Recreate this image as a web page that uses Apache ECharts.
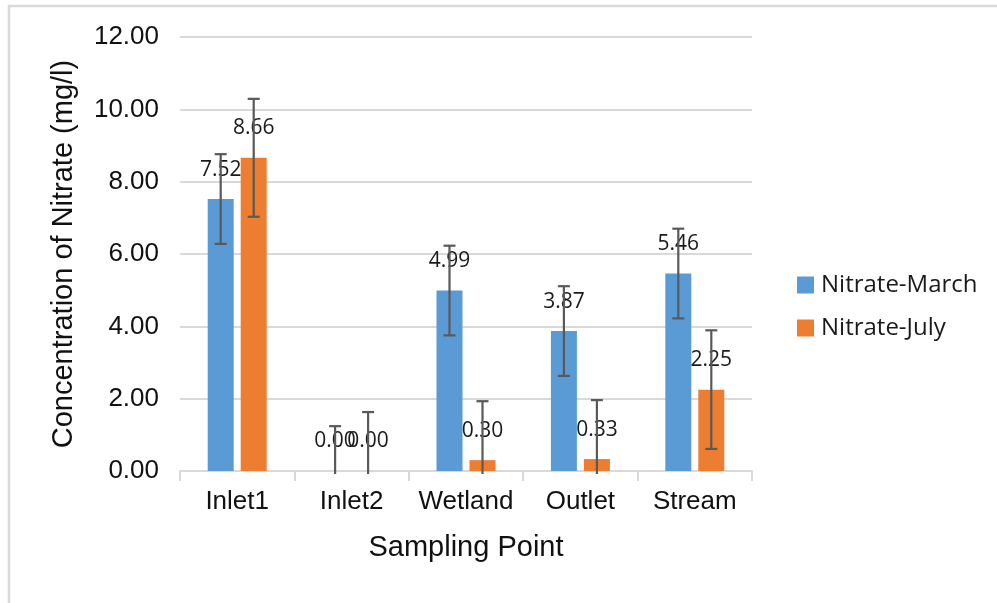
<!DOCTYPE html>
<html>
<head>
<meta charset="utf-8">
<script src="https://cdn.jsdelivr.net/npm/echarts@6/dist/echarts.min.js"></script>
<style>
html,body{margin:0;padding:0;background:#fff;}
#chart{width:997px;height:603px;}
</style>
</head>
<body>
<div id="chart"></div>
<script>
var categories = ['Inlet1', 'Inlet2', 'Wetland', 'Outlet', 'Stream'];
var marchValues = [7.52, 0.00, 4.99, 3.87, 5.46];
var julyValues = [8.66, 0.00, 0.30, 0.33, 2.25];
var marchErrors = [1.24, 1.24, 1.24, 1.24, 1.24];
var julyErrors = [1.63, 1.63, 1.63, 1.63, 1.64];
var yTicks = [0, 2, 4, 6, 8, 10, 12];

var BAR_W = 26, BAR_GAP = 7;
var chart = echarts.init(document.getElementById('chart'));

function errorSeries(values, errors, offset) {
  var data = values.map(function (v, i) { return [i, v, errors[i]]; });
  return {
    type: 'custom',
    z: 5,
    silent: true,
    clip: false,
    data: data,
    encode: { x: 0, y: 1 },
    renderItem: function (params, api) {
      var idx = api.value(0), v = api.value(1), e = api.value(2);
      var hi = v + e, lo = v - e;
      var clipped = lo < 0;
      if (clipped) lo = 0;
      var pTop = api.coord([idx, hi]);
      var pBot = api.coord([idx, lo]);
      var x = pTop[0] + offset;
      var yb = clipped ? pBot[1] + 3 : pBot[1];
      var cap = 6;
      var style = { stroke: '#595959', lineWidth: 2.2 };
      var children = [
        { type: 'line', shape: { x1: x, y1: pTop[1], x2: x, y2: yb }, style: style },
        { type: 'line', shape: { x1: x - cap, y1: pTop[1], x2: x + cap, y2: pTop[1] }, style: style }
      ];
      if (!clipped) {
        children.push({ type: 'line', shape: { x1: x - cap, y1: pBot[1], x2: x + cap, y2: pBot[1] }, style: style });
      }
      return { type: 'group', children: children };
    }
  };
}

var labelCfg = {
  show: true,
  position: 'top',
  distance: 19,
  fontFamily: 'Open Sans',
  fontSize: 21,
  color: '#1a1a1a',
  formatter: function (p) { return p.value.toFixed(2); }
};

var option = {
  animation: false,
  backgroundColor: '#ffffff',
  graphic: [{
    type: 'rect',
    shape: { x: 9, y: 6, width: 1200, height: 800 },
    style: { fill: 'none', stroke: '#d9d9d9', lineWidth: 2.5 },
    silent: true
  }],
  grid: { left: 180, right: 245, top: 37, bottom: 132 },
  legend: {
    orient: 'vertical',
    left: 792,
    top: 267,
    itemWidth: 17,
    itemHeight: 17,
    itemGap: 17,
    icon: 'rect',
    textStyle: { fontFamily: 'Open Sans', fontSize: 24, color: '#1a1a1a', lineHeight: 26, padding: [0, 0, 0, 2] },
    data: ['Nitrate-March', 'Nitrate-July']
  },
  xAxis: {
    type: 'category',
    data: categories,
    name: 'Sampling Point',
    nameLocation: 'middle',
    nameGap: 62,
    nameTextStyle: { fontFamily: 'Liberation Sans', fontSize: 29, color: '#111' },
    axisLine: { lineStyle: { color: '#d9d9d9', width: 2 } },
    axisTick: { show: true, length: 10, interval: 0, lineStyle: { color: '#d9d9d9', width: 2 } },
    axisLabel: { fontFamily: 'Liberation Sans', fontSize: 26, color: '#111', margin: 18, interval: 0 }
  },
  yAxis: {
    type: 'value',
    min: yTicks[0],
    max: yTicks[yTicks.length - 1],
    interval: 2,
    name: 'Concentration of Nitrate (mg/l)',
    nameLocation: 'middle',
    nameGap: 102,
    nameTextStyle: { fontFamily: 'Liberation Sans', fontSize: 29, color: '#111' },
    axisLine: { show: false },
    axisTick: { show: false },
    splitLine: { lineStyle: { color: '#d9d9d9', width: 2 } },
    axisLabel: {
      fontFamily: 'Liberation Sans', fontSize: 26, color: '#111', margin: 21,
      formatter: function (v) { return v.toFixed(2); }
    }
  },
  series: [
    {
      name: 'Nitrate-March', type: 'bar', data: marchValues,
      barWidth: BAR_W, barGap: (BAR_GAP / BAR_W * 100) + '%',
      itemStyle: { color: '#5B9BD5' },
      label: labelCfg, z: 2
    },
    {
      name: 'Nitrate-July', type: 'bar', data: julyValues,
      barWidth: BAR_W,
      itemStyle: { color: '#ED7D31' },
      label: labelCfg, z: 2
    },
    errorSeries(marchValues, marchErrors, -(BAR_W + BAR_GAP) / 2),
    errorSeries(julyValues, julyErrors, (BAR_W + BAR_GAP) / 2)
  ]
};
chart.setOption(option);
</script>
</body>
</html>
